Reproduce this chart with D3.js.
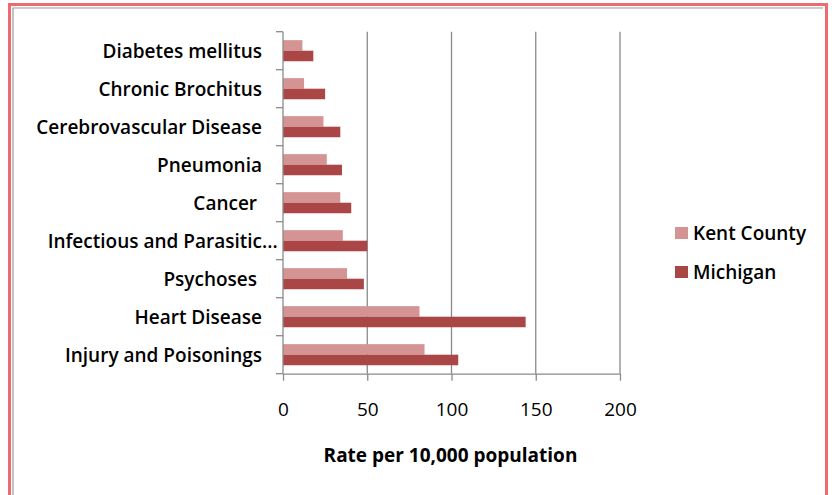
<!DOCTYPE html>
<html>
<head>
<meta charset="utf-8">
<script src="https://cdn.jsdelivr.net/npm/d3@7"></script>
<style>
  html, body { margin: 0; padding: 0; background: #fff; }
  svg { display: block; }
  text { font-family: "Open Sans", sans-serif; fill: #000; }
</style>
</head>
<body>
<svg id="chart" width="832" height="495"></svg>
<script>
// Causes of death, listed top to bottom
const categories = [
  "Diabetes mellitus",
  "Chronic Brochitus",
  "Cerebrovascular Disease",
  "Pneumonia",
  "Cancer ",
  "Infectious and Parasitic...",
  "Psychoses ",
  "Heart Disease",
  "Injury and Poisonings"
];
const seriesNames = ["Kent County", "Michigan"];
const kentCounty = [11.5, 12.5, 24, 26, 34, 35.5, 38, 81, 84];
const michigan = [18, 25, 34, 35, 40.5, 50, 48, 144, 104];
const xTicks = [0, 50, 100, 150, 200];
const colors = ["#D49494", "#AA4646"];

const values = [kentCounty, michigan];
const rows = categories.map((c, i) => ({
  category: c,
  bars: seriesNames.map((s, k) => ({ series: s, value: values[k][i], color: colors[k] }))
}));

const svg = d3.select("#chart");

// outer frame
svg.append("rect")
  .attr("x", 9.5).attr("y", 4.5).attr("width", 817).attr("height", 520)
  .attr("fill", "none").attr("stroke", "#EE6A6F").attr("stroke-width", 3);
svg.append("path")
  .attr("d", "M13,520V8H823")
  .attr("fill", "none").attr("stroke", "#9A9A9A").attr("stroke-width", 1.2);

const plot = { left: 283, right: 620, top: 31.7, bottom: 373.7 };

const x = d3.scaleLinear().domain([0, 200]).range([plot.left, plot.right]);
const y = d3.scaleBand().domain(categories).range([plot.top, plot.bottom]).padding(0);
const ySub = d3.scaleBand().domain(seriesNames).range([0, y.bandwidth()])
  .paddingInner(0).paddingOuter(0.8);

// vertical gridlines
svg.append("g")
  .selectAll("line")
  .data(xTicks.filter(t => t > 0))
  .join("line")
  .attr("x1", d => x(d)).attr("x2", d => x(d))
  .attr("y1", plot.top).attr("y2", plot.bottom)
  .attr("stroke", "#8A8A8A").attr("stroke-width", 1.3);

// bars
const groups = svg.append("g")
  .selectAll("g")
  .data(rows)
  .join("g")
  .attr("transform", d => `translate(0,${y(d.category)})`);

groups.selectAll("rect")
  .data(d => d.bars)
  .join("rect")
  .attr("x", x(0))
  .attr("y", d => ySub(d.series))
  .attr("width", d => x(d.value) - x(0))
  .attr("height", ySub.bandwidth())
  .attr("fill", d => d.color);

// x axis
const xAxis = svg.append("g")
  .attr("transform", `translate(0,${plot.bottom})`)
  .call(d3.axisBottom(x).tickValues(xTicks).tickSize(7).tickPadding(22).tickSizeOuter(0));
xAxis.select(".domain").attr("stroke", "#8A8A8A").attr("stroke-width", 1.3);
xAxis.selectAll(".tick line").attr("stroke", "#8A8A8A").attr("stroke-width", 1.3);
xAxis.selectAll(".tick text")
  .attr("font-family", "Open Sans").attr("font-size", 19).attr("fill", "#000");

// y axis: ticks at band boundaries
const yAxisG = svg.append("g");
yAxisG.append("line")
  .attr("x1", plot.left).attr("x2", plot.left)
  .attr("y1", plot.top).attr("y2", plot.bottom)
  .attr("stroke", "#8A8A8A").attr("stroke-width", 1.3);
yAxisG.selectAll("line.tk")
  .data(categories.concat([null]))
  .join("line")
  .attr("class", "tk")
  .attr("x1", plot.left - 7).attr("x2", plot.left)
  .attr("y1", (d, i) => plot.top + i * y.step())
  .attr("y2", (d, i) => plot.top + i * y.step())
  .attr("stroke", "#8A8A8A").attr("stroke-width", 1.3);

// category labels
const labelSize = 19;
const labels = svg.append("g")
  .selectAll("text")
  .data(categories)
  .join("text")
  .attr("x", 262)
  .attr("y", d => y(d) + y.bandwidth() / 2)
  .attr("dy", "0.36em")
  .attr("text-anchor", "end")
  .attr("font-size", labelSize)
  .attr("font-weight", 600)
  .style("white-space", "pre")
  .text(d => d);

// truncated labels keep their words aligned and let the ellipsis run past
labels.filter(d => d.endsWith("...")).each(function () {
  const node = this;
  const full = node.getComputedTextLength();
  const probe = svg.append("text")
    .attr("font-size", labelSize).attr("font-weight", 600)
    .text(node.textContent.slice(0, -3));
  const base = probe.node().getComputedTextLength();
  probe.remove();
  d3.select(node).attr("x", 262 + (full - base));
});

// axis title
svg.append("text")
  .attr("x", 450.5)
  .attr("y", 462)
  .attr("text-anchor", "middle")
  .attr("font-size", 19)
  .attr("font-weight", 700)
  .text("Rate per 10,000 population");

// legend
const legend = svg.append("g")
  .selectAll("g")
  .data(seriesNames)
  .join("g")
  .attr("transform", (d, i) => `translate(675,${227 + i * 39})`);
legend.append("rect")
  .attr("width", 13).attr("height", 12)
  .attr("fill", (d, i) => colors[i]);
legend.append("text")
  .attr("x", 18).attr("y", 12.5)
  .attr("font-size", 19)
  .attr("font-weight", 600)
  .text(d => d);
</script>
</body>
</html>
